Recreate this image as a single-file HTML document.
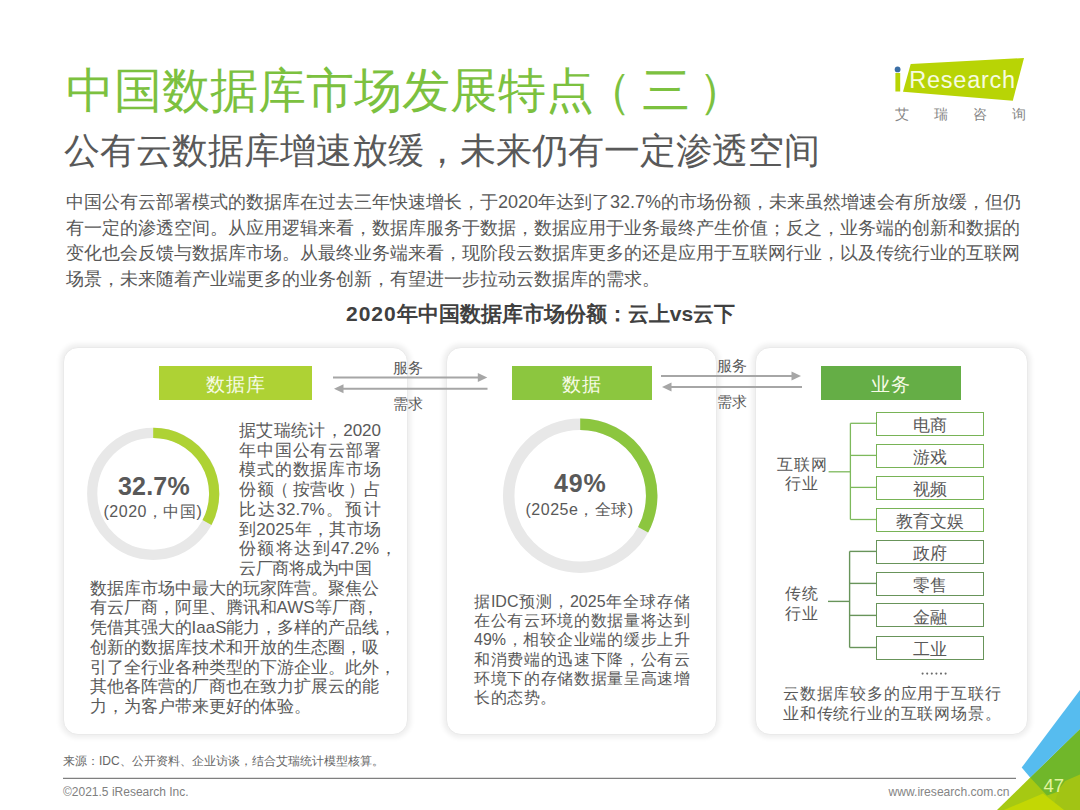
<!DOCTYPE html>
<html><head><meta charset="utf-8">
<style>
*{margin:0;padding:0;box-sizing:border-box}
html,body{width:1080px;height:810px;overflow:hidden;background:#fff}
body{position:relative;font-family:"Liberation Sans",sans-serif;color:#595959}
.a{position:absolute;white-space:nowrap}
.j{text-align:justify;text-align-last:justify;white-space:nowrap}
.title{left:65.5px;top:58.5px;font-size:48px;color:#7cc13f}
.sub{left:64px;top:127px;font-size:36px;color:#595959}
.p{font-size:18px;color:#595959;left:66px;width:953px}
.ct{font-size:21px;font-weight:bold;color:#404040}
.panel{position:absolute;top:347.2px;height:388px;background:#fff;border:1px solid #eaeaea;border-radius:15px;box-shadow:0 0 5px 2.5px rgba(0,0,0,0.065)}
.gbox{position:absolute;top:366px;height:34px;color:#f7fbe6;font-size:18.5px;letter-spacing:1.2px;text-indent:1.2px;text-align:center;line-height:37px;overflow:hidden}
.t1{font-size:17px;color:#595959}
.t2{font-size:16px;letter-spacing:0.6px;color:#595959}
.t2.j{letter-spacing:0;width:216.5px}
.lbl{font-size:14.5px;color:#595959}
.bx{position:absolute;left:875.5px;width:108.5px;height:24px;border:1.4px solid #78b356;background:#fff;font-size:17px;text-align:center;line-height:21px;padding-top:2.5px;color:#595959}
</style></head><body>

<div class="a title">中国数据库市场发展特点<span style="position:relative;left:-9.5px">（</span>三<span style="position:relative;left:8.5px">）</span></div>
<div class="a sub">公有云数据库增速放缓，未来仍有一定渗透空间</div>

<!-- logo -->
<svg class="a" style="left:0;top:0" width="1080" height="810" viewBox="0 0 1080 810">
  <polygon points="910.7,63.9 1024,58 1012.8,100.7 903,91.7" fill="#b8d405"/>
  <rect x="895.4" y="73" width="4.8" height="18.5" fill="#b8d405"/>
  <circle cx="897.6" cy="69.4" r="2.9" fill="#3a6ea5"/>
</svg>
<div class="a" style="left:909.3px;top:67.4px;font-size:23.5px;color:#f6fbe0;letter-spacing:0.75px">Research</div>
<div class="a" style="left:894.5px;top:105.5px;font-size:13.5px;color:#858585;letter-spacing:25.2px">艾瑞咨询</div>

<div class="a p j" style="top:190px">中国公有云部署模式的数据库在过去三年快速增长，于2020年达到了32.7%的市场份额，未来虽然增速会有所放缓，但仍</div>
<div class="a p j" style="top:215.7px">有一定的渗透空间。从应用逻辑来看，数据库服务于数据，数据应用于业务最终产生价值；反之，业务端的创新和数据的</div>
<div class="a p j" style="top:241.4px">变化也会反馈与数据库市场。从最终业务端来看，现阶段云数据库更多的还是应用于互联网行业，以及传统行业的互联网</div>
<div class="a p" style="top:267.1px;width:auto">场景，未来随着产业端更多的业务创新，有望进一步拉动云数据库的需求。</div>

<div class="a ct" style="left:346px;top:300px"><span style="letter-spacing:1px">2020</span>年中国数据库市场份额：云上vs云下</div>

<!-- panels -->
<div class="panel" style="left:63px;width:345px"></div>
<div class="panel" style="left:445.5px;width:271.7px"></div>
<div class="panel" style="left:754.6px;width:273.2px"></div>

<div class="gbox" style="left:159px;width:153px;background:#aed234">数据库</div>
<div class="gbox" style="left:511.5px;width:140px;background:#8cc63f">数据</div>
<div class="gbox" style="left:820.5px;width:140.5px;background:#65ae46">业务</div>

<!-- arrows -->
<svg class="a" style="left:0;top:0" width="1080" height="810" viewBox="0 0 1080 810">
  <g stroke="#a6a6a6" stroke-width="2" fill="#a6a6a6">
    <line x1="333" y1="377.4" x2="480" y2="377.4"/>
    <polygon points="477.8,372.9 487.3,377.4 477.8,381.9" stroke="none"/>
    <line x1="341" y1="388.8" x2="487.5" y2="388.8"/>
    <polygon points="343.5,384.3 334,388.8 343.5,393.3" stroke="none"/>
    <line x1="661" y1="375.9" x2="794" y2="375.9"/>
    <polygon points="791.5,371.4 801,375.9 791.5,380.4" stroke="none"/>
    <line x1="669" y1="387.1" x2="802" y2="387.1"/>
    <polygon points="671.5,382.6 662,387.1 671.5,391.6" stroke="none"/>
  </g>
  <!-- donut 1 -->
  <circle cx="153.2" cy="493.8" r="61" fill="none" stroke="#e8e8e8" stroke-width="10.2"/>
  <path d="M153.2,432.8 A61,61 0 0 1 207,522.5" fill="none" stroke="#aed234" stroke-width="10.2"/>
  <!-- donut 2 -->
  <circle cx="580.2" cy="495.7" r="71.5" fill="none" stroke="#e8e8e8" stroke-width="11.5"/>
  <path d="M580.2,424.2 A71.5,71.5 0 0 1 643.1,529.7" fill="none" stroke="#8cc63f" stroke-width="11.5"/>
  <!-- tree lines -->
  <g stroke="#7db95c" stroke-width="1.3" fill="none">
    <line x1="850.4" y1="423.3" x2="850.4" y2="519.5"/>
    <line x1="828.6" y1="471.8" x2="850.4" y2="471.8"/>
    <line x1="850.4" y1="423.3" x2="876" y2="423.3"/>
    <line x1="850.4" y1="455.4" x2="876" y2="455.4"/>
    <line x1="850.4" y1="487.4" x2="876" y2="487.4"/>
    <line x1="850.4" y1="519.5" x2="876" y2="519.5"/>
  </g>
  <g stroke="#68945a" stroke-width="1.4" fill="none">
    <line x1="849.6" y1="551.4" x2="849.6" y2="647.5"/>
    <line x1="828" y1="601.4" x2="849.6" y2="601.4"/>
    <line x1="849.6" y1="551.4" x2="876" y2="551.4"/>
    <line x1="849.6" y1="583.4" x2="876" y2="583.4"/>
    <line x1="849.6" y1="615.4" x2="876" y2="615.4"/>
    <line x1="849.6" y1="647.5" x2="876" y2="647.5"/>
  </g>
  <g fill="#6a6a6a"><circle cx="922.6" cy="673.6" r="1.05"/><circle cx="927.2" cy="673.6" r="1.05"/><circle cx="931.8" cy="673.6" r="1.05"/><circle cx="936.4" cy="673.6" r="1.05"/><circle cx="941" cy="673.6" r="1.05"/><circle cx="945.6" cy="673.6" r="1.05"/></g>
  <!-- footer line -->
  <line x1="63" y1="778.3" x2="1016" y2="778.3" stroke="#7f7f7f" stroke-width="1.3"/>
  <!-- corner -->
  <polygon points="997,810 1030.2,777.6 1080,729 1080,810" fill="#a6c912"/>
  <polygon points="1062,781 1080,772 1080,810 1052,810" fill="#a2c414"/>
  <polygon points="1004,810 1043,793.5 1064,810" fill="#c3d704"/>
  <polygon points="1030.2,777.6 1080,729 1080,774.5 1065,781 1057,792 1047,795.5" fill="#70b72a"/>
  <polygon points="1021.7,767.6 1080,690 1080,729 1030.2,777.6" fill="#56bcef"/>
</svg>

<div class="a lbl" style="left:393px;top:359px">服务</div>
<div class="a lbl" style="left:393px;top:395px">需求</div>
<div class="a lbl" style="left:716.5px;top:357px">服务</div>
<div class="a lbl" style="left:716.5px;top:393px">需求</div>

<!-- donut labels -->
<div class="a" style="left:118px;top:471.5px;font-size:25px;font-weight:bold;color:#595959;letter-spacing:0.2px">32.7%</div>
<div class="a" style="left:103.5px;top:502px;font-size:16px;color:#595959;letter-spacing:0.5px">(2020，中国)</div>
<div class="a" style="left:554px;top:469px;font-size:25px;font-weight:bold;color:#595959;letter-spacing:0.8px">49%</div>
<div class="a" style="left:525.5px;top:499.5px;font-size:16px;color:#595959;letter-spacing:0.5px">(2025e，全球)</div>

<!-- panel 1 text -->
<div class="a t1 j" style="left:239px;width:142px;top:419.0px">据艾瑞统计，2020</div>
<div class="a t1 j" style="left:239px;width:142px;top:438.7px">年中国公有云部署</div>
<div class="a t1 j" style="left:239px;width:142px;top:458.4px">模式的数据库市场</div>
<div class="a t1 j" style="left:239px;width:142px;top:478.1px">份额<span style="position:relative;left:-3px">（</span>按营收<span style="position:relative;left:1.5px">）</span>占</div>
<div class="a t1 j" style="left:239px;width:142px;top:497.8px">比达32.7%。预计</div>
<div class="a t1 j" style="left:239px;width:142px;top:517.5px">到2025年，其市场</div>
<div class="a t1 j" style="left:239px;width:158.5px;top:537.3px">份额将达到47.2%，</div>
<div class="a t1" style="left:239px;top:557.0px;letter-spacing:-0.45px">云厂商将成为中国</div>
<div class="a t1" style="left:89.5px;top:576.7px">数据库市场中最大的玩家阵营。聚焦公</div>
<div class="a t1" style="left:89.5px;top:596.4px">有云厂商，阿里、腾讯和AWS等厂商<span style="margin-left:-4px">，</span></div>
<div class="a t1" style="left:89.5px;top:616.1px">凭借其强大的IaaS能力，多样的产品线，</div>
<div class="a t1" style="left:89.5px;top:635.8px">创新的数据库技术和开放的生态圈，吸</div>
<div class="a t1" style="left:89.5px;top:655.5px">引了全行业各种类型的下游企业。此外，</div>
<div class="a t1" style="left:89.5px;top:675.2px">其他各阵营的厂商也在致力扩展云的能</div>
<div class="a t1" style="left:89.5px;top:694.9px">力，为客户带来更好的体验。</div>

<!-- panel 2 text -->
<div class="a t2 j" style="left:474px;width:216px;top:591.5px">据IDC预测，2025年全球存储</div>
<div class="a t2 j" style="left:474px;width:216px;top:610.8px">在公有云环境的数据量将达到</div>
<div class="a t2 j" style="left:474px;width:216px;top:630.2px">49%，相较企业端的缓步上升</div>
<div class="a t2 j" style="left:474px;width:216px;top:649.5px">和消费端的迅速下降，公有云</div>
<div class="a t2 j" style="left:474px;width:216px;top:668.9px">环境下的存储数据量呈高速增</div>
<div class="a t2" style="left:474px;top:688.2px">长的态势。</div>

<!-- panel 3 -->
<div class="bx" style="top:411.5px">电商</div>
<div class="bx" style="top:443.6px">游戏</div>
<div class="bx" style="top:475.7px">视频</div>
<div class="bx" style="top:507.6px">教育文娱</div>
<div class="bx" style="border-color:#68945a;top:539.6px">政府</div>
<div class="bx" style="border-color:#68945a;top:571.6px">零售</div>
<div class="bx" style="border-color:#68945a;top:603.4px">金融</div>
<div class="bx" style="border-color:#68945a;top:635.5px">工业</div>
<div class="a t2" style="left:777px;top:454.5px;letter-spacing:1.2px">互联网</div>
<div class="a t2" style="left:785px;top:474px;letter-spacing:1.2px">行业</div>
<div class="a t2" style="left:785px;top:583.5px;letter-spacing:1.2px">传统</div>
<div class="a t2" style="left:785px;top:604px;letter-spacing:1.2px">行业</div>

<div class="a t2" style="left:783px;top:683.5px;letter-spacing:0.8px">云数据库较多的应用于互联行</div>
<div class="a t2" style="left:783px;top:703.5px;letter-spacing:0.8px">业和传统行业的互联网场景。</div>

<!-- footer -->
<div class="a" style="left:63px;top:753px;font-size:12px;color:#666">来源：IDC、公开资料、企业访谈，结合艾瑞统计模型核算。</div>
<div class="a" style="left:63px;top:785px;font-size:12px;color:#7f7f7f">©2021.5 iResearch Inc.</div>
<div class="a" style="left:888.5px;top:785.3px;font-size:12.1px;color:#858585">www.iresearch.com.cn</div>
<div class="a" style="left:1043.5px;top:775px;font-size:18.5px;color:#e4f4a0">47</div>

</body></html>
